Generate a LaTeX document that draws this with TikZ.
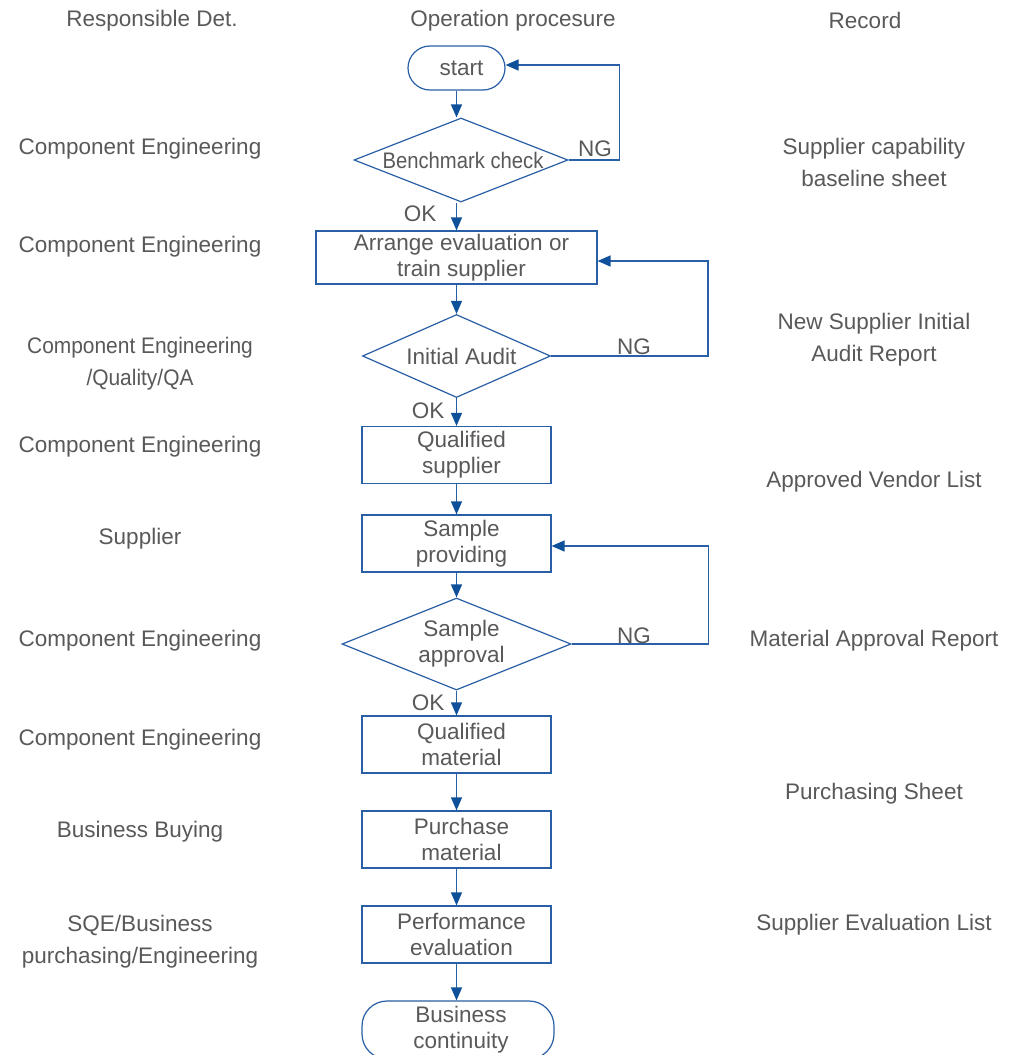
\documentclass[tikz,border=0pt]{standalone}
\usepackage{fontspec}
\setmainfont{Liberation Sans}
\usetikzlibrary{shapes.geometric,arrows.meta}
\definecolor{lineblue}{RGB}{40,95,165}
\definecolor{tipblue}{RGB}{15,80,155}
\definecolor{txtgray}{RGB}{89,89,89}
\tikzset{
 base/.style={text=txtgray, font=\fontsize{22.5}{26}\selectfont, align=center, inner sep=0pt},
 side/.style={base, font=\fontsize{22.5}{32}\selectfont},
 inner/.style={base, xshift=5pt},
 proc/.style={draw=lineblue, line width=1.2pt, fill=white, inner sep=0pt, minimum height=57pt, minimum width=189pt},
 term/.style={proc, rounded corners=22pt},
 dec/.style={draw=lineblue, line width=1.2pt, diamond, inner sep=0pt, fill=white},
 arr/.style={draw=lineblue, line width=1.3pt, -{Triangle[length=13pt,width=11pt,color=tipblue]}},
 lbl/.style={base}
}
\begin{document}
\begin{tikzpicture}[x=1pt,y=-1pt]
\useasboundingbox[fill=white] (0,0) rectangle (1026,1055);
% headers
\node[side] (h1) at (152,21) {Responsible Det.};
\node[side] (h2) at (513,21) {Operation procesure};
\node[side] (h3) at (865,20) {Record};
% flow nodes
\node[term, minimum width=97pt, minimum height=44pt, label={[inner]center:start}] (start) at (456.5,68) {};
\node[dec, minimum width=214pt, minimum height=84pt, label={[base,xshift=2pt]center:\scalebox{0.9}[1]{Benchmark check}}] (d1) at (461,160) {};
\node[proc, minimum width=281pt, minimum height=53pt, label={[inner]center:Arrange evaluation or\\train supplier}] (b1) at (456.5,257.5) {};
\node[dec, minimum width=188pt, minimum height=83pt, label={[inner]center:Initial Audit}] (d2) at (456.5,356) {};
\node[proc, label={[inner]center:Qualified\\supplier}] (b2) at (456.5,455) {};
\node[proc, label={[inner]center:Sample\\providing}] (b3) at (456.5,543.5) {};
\node[dec, minimum width=229pt, minimum height=92pt, label={[inner]center:Sample\\approval}] (d3) at (456.5,644) {};
\node[proc, label={[inner]center:Qualified\\material}] (b4) at (456.5,744.5) {};
\node[proc, label={[inner]center:Purchase\\material}] (b5) at (456.5,839.5) {};
\node[proc, label={[inner]center:Performance\\evaluation}] (b6) at (456.5,934.5) {};
\node[term, minimum width=192pt, minimum height=58pt, rounded corners=25pt, label={[base,xshift=3pt]center:Business\\continuity}] (end) at (458,1030) {};
% main arrows
\draw[arr] (start.south) -- (start.south |- d1.north);
\draw[arr] (b1.north |- d1.south) -- (b1.north);
\draw[arr] (b1) -- (d2);
\draw[arr] (d2) -- (b2);
\draw[arr] (b2) -- (b3);
\draw[arr] (b3) -- (d3);
\draw[arr] (d3) -- (b4);
\draw[arr] (b4) -- (b5);
\draw[arr] (b5) -- (b6);
\draw[arr] (b6.south) -- (b6.south |- end.north);
% NG loops
\draw[arr] (d1.east) -- ++(51,0) |- ([yshift=3pt]start.east);
\draw[arr] (d2.east) -- ++(157,0) |- ([yshift=-3.5pt]b1.east);
\draw[arr] (d3.east) -- ++(137,0) |- ([yshift=-2.5pt]b3.east);
% branch labels
\node[lbl] (ng1) at (595,149) {NG};
\node[lbl] (ng2) at (634,347) {NG};
\node[lbl] (ng3) at (634,636) {NG};
\node[lbl] (ok1) at (420,214) {OK};
\node[lbl] (ok2) at (428,411) {OK};
\node[lbl] (ok3) at (428,703) {OK};
% left column
\node[side] (l1) at (140,149) {Component Engineering};
\node[side] (l2) at (140,247) {Component Engineering};
\node[side] (l3) at (140,364) {\scalebox{0.93}[1]{Component Engineering}\\\scalebox{0.93}[1]{/Quality/QA}};
\node[side] (l4) at (140,447) {Component Engineering};
\node[side] (l5) at (140,539) {Supplier};
\node[side] (l6) at (140,641) {Component Engineering};
\node[side] (l7) at (140,740) {Component Engineering};
\node[side] (l8) at (140,832) {Business Buying};
\node[side] (l9) at (140,942) {SQE/Business\\purchasing/Engineering};
% right column
\node[side] (r1) at (874,162) {Supplier capability\\baseline sheet};
\node[side] (r2) at (874,340) {New Supplier Initial\\Audit Report};
\node[side] (r3) at (874,482) {Approved Vendor List};
\node[side] (r4) at (874,641) {Material Approval Report};
\node[side] (r5) at (874,794) {Purchasing Sheet};
\node[side] (r6) at (874,925) {Supplier Evaluation List};
\end{tikzpicture}
\end{document}
